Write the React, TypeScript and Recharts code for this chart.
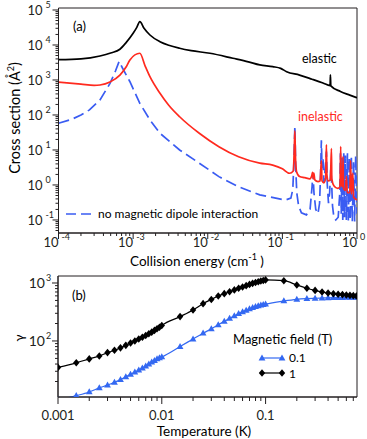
import React from 'react'
import { LineChart, Line, XAxis, YAxis, ReferenceArea } from 'recharts'

const FONT = 'Lato, "Open Sans", sans-serif'
const AXIS = '#231f20'
const RED = '#ff2a1f'
const BLUE = '#3a5cf2'
const BLUE_B = '#3469f2'

// (a) cross sections vs collision energy, [E (cm^-1), sigma (A^2)]
const elastic: [number, number][] = [
  [1e-4, 3800], [2e-4, 4000], [3.6e-4, 4850], [5e-4, 5900], [6.65e-4, 7540], [8e-4, 11500],
  [1e-3, 21600], [1.12e-3, 32000], [1.23e-3, 46400], [1.4e-3, 30000], [1.68e-3, 19300],
  [2.29e-3, 12400], [3e-3, 9800], [4.2e-3, 8050], [6e-3, 6900], [0.0107, 5800], [0.0217, 4170],
  [0.035, 3300], [0.0498, 2690], [0.0743, 2400], [0.095, 2150], [0.114, 1730], [0.17, 1380],
  [0.25, 1050], [0.35, 820], [0.436, 690], [0.44, 1400], [0.446, 680], [0.6, 470], [0.8, 370], [1, 310]
]

const inelastic: [number, number][] = [
  [1e-4, 870], [2e-4, 760], [3e-4, 700], [3.6e-4, 720], [4.9e-4, 880], [6.65e-4, 1380],
  [8e-4, 2300], [9.06e-4, 3730], [1.23e-3, 5800], [1.45e-3, 2500], [1.68e-3, 1240], [2.29e-3, 417],
  [3e-3, 190], [4.2e-3, 89], [7.7e-3, 30], [0.0141, 12.4], [0.0259, 6.4], [0.0498, 4.2], [0.0743, 3.7],
  [0.1, 2.9], [0.125, 2.16], [0.14, 2.5], [0.145, 15], [0.147, 35], [0.15, 6], [0.155, 2.4],
  [0.17, 1.75], [0.2, 1.62], [0.233, 1.5], [0.25, 2.0], [0.254, 2.3], [0.259, 1.5], [0.264, 2.2],
  [0.272, 1.4], [0.3, 1.25], [0.32, 1.3], [0.333, 5], [0.34, 1.3], [0.36, 1.15], [0.38, 1.6],
  [0.389, 14], [0.395, 2], [0.41, 1.3], [0.44, 1.4], [0.454, 11], [0.46, 1.5], [0.49, 0.95],
  [0.55, 0.8], [0.59, 0.85], [0.605, 12.5], [0.615, 1], [0.64, 0.9], [0.65, 6.5], [0.66, 0.8],
  [0.7, 0.7], [0.72, 1.8], [0.74, 0.6], [0.8, 0.6], [0.82, 5], [0.84, 0.55], [0.88, 2.2],
  [0.9, 0.45], [0.95, 0.4], [1, 0.37]
]

const noDipole: [number, number][] = [
  [1e-4, 58], [1.5e-4, 75], [2e-4, 100], [2.6e-4, 140], [3.6e-4, 270], [4.9e-4, 800],
  [5.8e-4, 1800], [6.5e-4, 3400], [7.2e-4, 2200], [9.06e-4, 890], [1.23e-3, 215], [1.68e-3, 72],
  [2.29e-3, 30], [4.2e-3, 10], [7.7e-3, 4.2], [0.0141, 1.73], [0.0259, 0.89], [0.0498, 0.52],
  [0.11, 0.37], [0.13, 0.42], [0.138, 0.75], [0.143, 5], [0.147, 48], [0.151, 3], [0.156, 0.6],
  [0.165, 0.25], [0.18, 0.16], [0.21, 0.14], [0.235, 0.2], [0.25, 0.9], [0.257, 2.2], [0.265, 0.6],
  [0.28, 0.2], [0.3, 0.15], [0.315, 0.3], [0.325, 2], [0.333, 19], [0.34, 3], [0.35, 6], [0.36, 1.2],
  [0.375, 3], [0.389, 9], [0.4, 1], [0.415, 0.3], [0.43, 0.6], [0.445, 3], [0.455, 1.5], [0.47, 0.25],
  [0.49, 0.12], [0.52, 0.1], [0.56, 0.12], [0.585, 0.5], [0.6, 8], [0.615, 0.15], [0.63, 6],
  [0.645, 0.1], [0.665, 8], [0.68, 0.12], [0.7, 7], [0.72, 0.1], [0.745, 8], [0.765, 0.09],
  [0.79, 6], [0.81, 0.1], [0.84, 7], [0.865, 0.09], [0.9, 5], [0.93, 0.09], [0.96, 7], [1, 0.15]
]

// (b) gamma vs temperature
const temperatures = [
  0.001, 0.0015, 0.002, 0.0025, 0.003, 0.0035, 0.004, 0.0045, 0.005, 0.0055, 0.006, 0.0065, 0.007,
  0.0075, 0.008, 0.0085, 0.009, 0.0095, 0.01, 0.015, 0.02, 0.025, 0.03, 0.035, 0.04, 0.045, 0.05,
  0.055, 0.06, 0.065, 0.07, 0.075, 0.08, 0.085, 0.09, 0.095, 0.1, 0.15, 0.2, 0.25, 0.3, 0.35, 0.4,
  0.45, 0.5, 0.55, 0.6, 0.65, 0.7, 0.75
]
const gammaField01 = [
  9.6, 11.4, 13.2, 15.5, 17.4, 19.4, 21.5, 24, 26.5, 29, 31.5, 34, 37, 40, 43, 46, 49, 51, 53,
  80, 108, 136, 162, 190, 218, 245, 270, 296, 318, 338, 358, 376, 393, 405, 415, 422, 432,
  490, 523, 537, 545, 550, 554, 557, 559, 561, 563, 564, 565, 566
]
const gammaField1 = [
  35, 42, 49, 55, 63, 69, 76, 84, 92, 100, 108, 116, 124, 133, 142, 152, 162, 172, 185,
  263, 342, 440, 520, 595, 655, 705, 760, 810, 855, 900, 945, 985, 1020, 1050, 1080, 1105, 1130,
  1095, 925, 810, 745, 700, 670, 652, 640, 630, 622, 612, 605, 598
]

const energyTicks = [1e-4, 1e-3, 1e-2, 1e-1, 1]
const sigmaTicks = [0.1, 1, 10, 100, 1e3, 1e4, 1e5]
const tempTicks = [0.001, 0.01, 0.1]
const tempLabels = ['0.001', '0.01', '0.1']
const gammaTicks = [100, 1000]

const energyDomain: [number, number] = [1e-4, 1]
const sigmaDomain: [number, number] = [0.0424, 114000]
const tempDomain: [number, number] = [0.001, 0.76]
const gammaDomain: [number, number] = [10.8, 1320]

// majors plus 2..9 minors that fall inside the domain
function withMinors(domain: [number, number]) {
  const out: number[] = []
  const lo = Math.floor(Math.log10(domain[0]))
  const hi = Math.ceil(Math.log10(domain[1]))
  for (let k = lo; k <= hi; k++) {
    for (let m = 1; m <= 9; m++) {
      const v = Number((m * Math.pow(10, k)).toPrecision(6))
      if (v >= domain[0] * 0.999 && v <= domain[1] * 1.001) out.push(v)
    }
  }
  return out
}

const isMajor = (v: number, majors: number[]) => majors.some((m) => Math.abs(m - v) / m < 1e-6)
const pairs = (d: [number, number][]) => d.map(([x, y]) => ({ x, y }))

type TickProps = { x?: number; y?: number; payload?: { value: number } }

function SigmaTick({ x = 0, y = 0, payload }: TickProps) {
  const v = payload?.value ?? 1
  if (!isMajor(v, sigmaTicks)) return <line x1={x} x2={x - 3} y1={y} y2={y} stroke={AXIS} />
  const exp = Math.round(Math.log10(v))
  return (
    <g fontFamily={FONT} fill={AXIS}>
      <line x1={x} x2={x - 6} y1={y} y2={y} stroke={AXIS} />
      <text x={x - 16} y={y + 5} textAnchor="end" fontSize={13}>10</text>
      <text x={x - 13} y={y - 2} fontSize={9}>{exp}</text>
    </g>
  )
}

function EnergyTick({ x = 0, y = 0, payload }: TickProps) {
  const v = payload?.value ?? 1
  if (!isMajor(v, energyTicks)) return <line x1={x} x2={x} y1={y} y2={y + 3} stroke={AXIS} />
  const exp = Math.round(Math.log10(v))
  return (
    <g fontFamily={FONT} fill={AXIS}>
      <line x1={x} x2={x} y1={y} y2={y + 6} stroke={AXIS} />
      <text x={x} y={y + 14} textAnchor="end" fontSize={13}>10</text>
      <text x={x + 3} y={y + 7} fontSize={9}>{exp}</text>
    </g>
  )
}

function GammaTick({ x = 0, y = 0, payload }: TickProps) {
  const v = payload?.value ?? 1
  if (!isMajor(v, gammaTicks)) return <line x1={x} x2={x - 3} y1={y} y2={y} stroke={AXIS} />
  const exp = Math.round(Math.log10(v))
  return (
    <g fontFamily={FONT} fill={AXIS}>
      <line x1={x} x2={x - 6} y1={y} y2={y} stroke={AXIS} />
      <text x={x - 13} y={y + 5} textAnchor="end" fontSize={14}>10</text>
      <text x={x - 12} y={y - 2} fontSize={9}>{exp}</text>
    </g>
  )
}

function TempTick({ x = 0, y = 0, payload }: TickProps) {
  const v = payload?.value ?? 1
  const i = tempTicks.findIndex((t) => Math.abs(t - v) / t < 1e-6)
  if (i < 0) return <line x1={x} x2={x} y1={y} y2={y + 4} stroke={AXIS} />
  return (
    <g fontFamily={FONT} fill={AXIS}>
      <line x1={x} x2={x} y1={y} y2={y + 7} stroke={AXIS} />
      <text x={x} y={y + 23} textAnchor="middle" fontSize={13}>{tempLabels[i]}</text>
    </g>
  )
}

const triangle = (cx: number, cy: number, color: string) => (
  <path d={`M${cx},${cy - 3.6}L${cx + 3.4},${cy + 2.4}L${cx - 3.4},${cy + 2.4}Z`} fill={color} />
)
const diamond = (cx: number, cy: number, color: string) => (
  <path d={`M${cx},${cy - 3.8}L${cx + 3.2},${cy}L${cx},${cy + 3.8}L${cx - 3.2},${cy}Z`} fill={color} />
)

export default function App() {
  const field01 = temperatures.map((t, i) => ({ x: t, y: gammaField01[i] }))
  const field1 = temperatures.map((t, i) => ({ x: t, y: gammaField1[i] }))

  return (
    <div style={{ position: 'absolute', left: 0, top: 0, width: 367, height: 439, background: '#fff' }}>
      <div style={{ position: 'absolute', left: 0, top: 0 }}>
        <LineChart width={367} height={270} margin={{ top: 8, right: 10, bottom: 0, left: 0 }}>
          <XAxis
            dataKey="x"
            type="number"
            scale="log"
            domain={energyDomain}
            allowDataOverflow
            ticks={withMinors(energyDomain)}
            interval={0}
            tick={(p: TickProps) => <EnergyTick {...p} />}
            tickSize={0}
            tickMargin={0}
            height={37}
            axisLine={{ stroke: AXIS }}
          />
          <YAxis
            dataKey="y"
            type="number"
            scale="log"
            domain={sigmaDomain}
            allowDataOverflow
            ticks={withMinors(sigmaDomain)}
            interval={0}
            tick={(p: TickProps) => <SigmaTick {...p} />}
            tickSize={0}
            tickMargin={0}
            width={58.5}
            axisLine={{ stroke: AXIS }}
          />
          <ReferenceArea
            x1={energyDomain[0]}
            x2={energyDomain[1]}
            y1={sigmaDomain[0]}
            y2={sigmaDomain[1]}
            fill="none"
            stroke={AXIS}
            ifOverflow="visible"
          />
          <Line data={pairs(noDipole)} dataKey="y" type="linear" stroke={BLUE} strokeWidth={1.7} strokeDasharray="11 5" dot={false} isAnimationActive={false} />
          <Line data={pairs(inelastic)} dataKey="y" type="monotone" stroke={RED} strokeWidth={1.7} dot={false} isAnimationActive={false} />
          <Line data={pairs(elastic)} dataKey="y" type="monotone" stroke="#000" strokeWidth={1.7} dot={false} isAnimationActive={false} />
        </LineChart>
      </div>

      <div style={{ position: 'absolute', left: 0, top: 268 }}>
        <LineChart width={367} height={171} margin={{ top: 8, right: 10, bottom: 0, left: 0 }}>
          <XAxis
            dataKey="x"
            type="number"
            scale="log"
            domain={tempDomain}
            allowDataOverflow
            ticks={withMinors(tempDomain)}
            interval={0}
            tick={(p: TickProps) => <TempTick {...p} />}
            tickSize={0}
            tickMargin={0}
            height={42}
            axisLine={{ stroke: AXIS }}
          />
          <YAxis
            dataKey="y"
            type="number"
            scale="log"
            domain={gammaDomain}
            allowDataOverflow
            ticks={withMinors(gammaDomain)}
            interval={0}
            tick={(p: TickProps) => <GammaTick {...p} />}
            tickSize={0}
            tickMargin={0}
            width={58}
            axisLine={{ stroke: AXIS }}
          />
          <ReferenceArea
            x1={tempDomain[0]}
            x2={tempDomain[1]}
            y1={gammaDomain[0]}
            y2={gammaDomain[1]}
            fill="none"
            stroke={AXIS}
            ifOverflow="visible"
          />
          <Line
            data={field01}
            dataKey="y"
            type="monotone"
            stroke={BLUE_B}
            strokeWidth={1.2}
            dot={(p: any) => <g key={`t${p.index}`}>{triangle(p.cx, p.cy, BLUE_B)}</g>}
            isAnimationActive={false}
          />
          <Line
            data={field1}
            dataKey="y"
            type="monotone"
            stroke="#000"
            strokeWidth={1.2}
            dot={(p: any) => <g key={`d${p.index}`}>{diamond(p.cx, p.cy, '#000')}</g>}
            isAnimationActive={false}
          />
        </LineChart>
      </div>

      <svg width={367} height={439} style={{ position: 'absolute', left: 0, top: 0, pointerEvents: 'none' }} fontFamily={FONT}>
        <text x={73} y={31} fontSize={13} fill="#000">(a)</text>
        <text x={302} y={63} fontSize={12.5} fill="#000">elastic</text>
        <text x={298} y={121} fontSize={12.5} fill={RED}>inelastic</text>
        <line x1={66} x2={91} y1={214} y2={214} stroke={BLUE} strokeWidth={1.6} strokeDasharray="10 5" />
        <text x={98} y={218} fontSize={12} fill="#000">no magnetic dipole interaction</text>
        <text transform="translate(20,118) rotate(-90)" textAnchor="middle" fontSize={14.5} fill="#000">
          Cross section (Å<tspan dy={-6} fontSize={9}>2</tspan><tspan dy={6}>)</tspan>
        </text>
        <text x={197} y={266} textAnchor="middle" fontSize={13.5} fill="#000">
          Collision energy (cm<tspan dy={-6} fontSize={9}>-1</tspan><tspan dy={6}> )</tspan>
        </text>

        <text x={72} y={300} fontSize={13} fill="#000">(b)</text>
        <text transform="translate(24,338) rotate(-90)" textAnchor="middle" fontSize={13} fill="#000">γ</text>
        <text x={233} y={344} fontSize={13} fill="#000">Magnetic field (T)</text>
        <line x1={262} x2={282} y1={358} y2={358} stroke={BLUE_B} strokeWidth={1.2} />
        {triangle(262, 358, BLUE_B)}
        {triangle(282, 358, BLUE_B)}
        <text x={289} y={362} fontSize={12} fill="#000">0.1</text>
        <line x1={262} x2={282} y1={373} y2={373} stroke="#000" strokeWidth={1.2} />
        {diamond(262, 373, '#000')}
        {diamond(282, 373, '#000')}
        <text x={289} y={377.5} fontSize={12} fill="#000">1</text>
        <text x={204} y={436} textAnchor="middle" fontSize={13.5} fill="#000">Temperature (K)</text>
      </svg>
    </div>
  )
}
